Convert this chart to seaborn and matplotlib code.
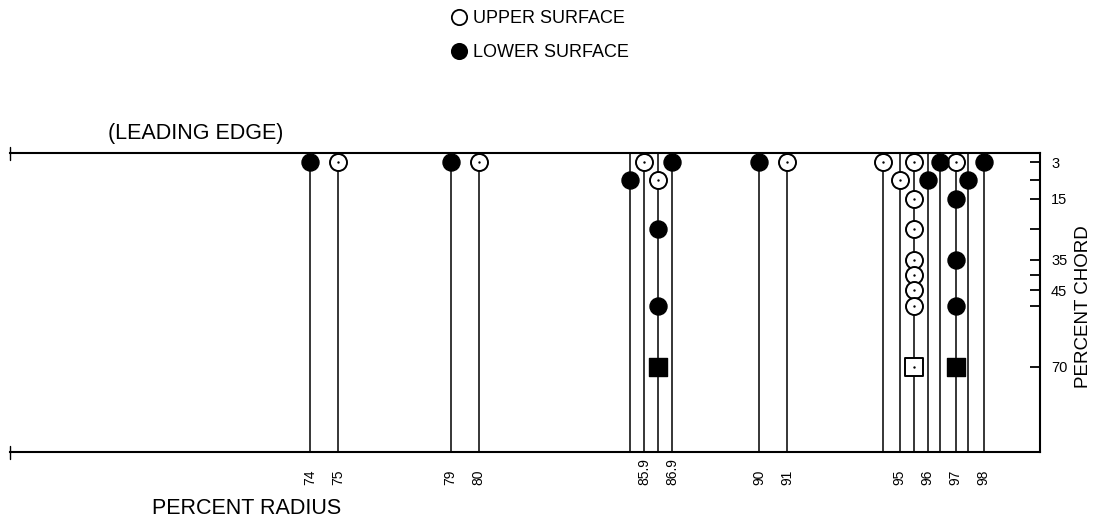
import seaborn as sns
import matplotlib.pyplot as plt
import pandas as pd
from matplotlib.lines import Line2D

# ---- data -------------------------------------------------------------
station_radius = [74, 75, 79, 80, 85.4, 85.9, 86.4, 86.9, 90, 91,
                  94.4, 95.0, 95.5, 96.0, 96.45, 97.0, 97.45, 98.0]

upper_radius = [75, 80, 85.9, 86.4, 91, 94.4, 95.0, 95.5, 95.5, 95.5,
                95.5, 95.5, 95.5, 95.5, 97.0]
upper_chord = [3, 3, 3, 9, 3, 3, 9, 3, 15, 25, 35, 40, 45, 50, 3]

lower_radius = [74, 79, 85.4, 86.4, 86.4, 86.9, 90, 96.0, 96.45, 97.0,
                97.0, 97.0, 97.45, 98.0]
lower_chord = [3, 3, 9, 25, 50, 3, 3, 9, 3, 15, 35, 50, 9, 3]

upper_sq_radius = [95.5]
upper_sq_chord = [70]
lower_sq_radius = [86.4, 97.0]
lower_sq_chord = [70, 70]

radius_ticks = [74, 75, 79, 80, 85.9, 86.9, 90, 91, 95, 96, 97, 98]
radius_labels = ["74", "75", "79", "80", "85.9", "86.9", "90", "91",
                 "95", "96", "97", "98"]
chord_ticks = [3, 9, 15, 25, 35, 40, 45, 50, 70]
chord_labels = ["3", "", "15", "", "35", "", "45", "", "70"]

# ---- figure -----------------------------------------------------------
sns.set_theme(style="white")
plt.rcParams["font.family"] = ["Liberation Sans", "DejaVu Sans"]
plt.rcParams["text.color"] = "black"

W, H = 1093, 518
fig = plt.figure(figsize=(W / 100, H / 100), dpi=100)
ax = fig.add_axes([10 / W, 1 - 452 / H, 1030 / W, 299 / H])

ax.vlines(station_radius, 0, 98, color="black", lw=1.1, zorder=2)

up = pd.DataFrame({"radius": upper_radius, "chord": upper_chord})
lo = pd.DataFrame({"radius": lower_radius, "chord": lower_chord})
usq = pd.DataFrame({"radius": upper_sq_radius, "chord": upper_sq_chord})
lsq = pd.DataFrame({"radius": lower_sq_radius, "chord": lower_sq_chord})

MS = 150
sns.scatterplot(data=up, x="radius", y="chord", marker="o", s=MS,
                color="white", edgecolor="black", linewidth=1.4,
                zorder=3, ax=ax)
sns.scatterplot(data=lo, x="radius", y="chord", marker="o", s=MS,
                color="black", edgecolor="black", linewidth=1.0,
                zorder=3, ax=ax)
sns.scatterplot(data=usq, x="radius", y="chord", marker="s", s=MS,
                color="white", edgecolor="black", linewidth=1.4,
                zorder=3, ax=ax)
sns.scatterplot(data=lsq, x="radius", y="chord", marker="s", s=MS,
                color="black", edgecolor="black", linewidth=1.0,
                zorder=3, ax=ax)
dots = pd.concat([up, usq])
sns.scatterplot(data=dots, x="radius", y="chord", marker="o", s=3,
                color="black", edgecolor="black", linewidth=0,
                zorder=4, ax=ax)

ax.set_xlim(63.3, 100)
ax.set_ylim(98, 0)

for side in ["top", "bottom", "right"]:
    ax.spines[side].set_visible(True)
    ax.spines[side].set_color("black")
    ax.spines[side].set_linewidth(1.5)
ax.spines["left"].set_visible(False)

# break marks at the left ends
for yy in (1.0, 0.0):
    ax.plot([0.0, 0.0], [yy - 0.025, yy + 0.02], transform=ax.transAxes,
            color="black", lw=1.0, clip_on=False)

ax.set_xticks(radius_ticks)
ax.set_xticklabels(radius_labels, rotation=90)
ax.tick_params(axis="x", length=0, pad=24, labelsize=10, colors="black")
plt.setp(ax.get_xticklabels(), va="bottom", ha="center")

ax.yaxis.tick_right()
ax.set_yticks(chord_ticks)
ax.set_yticklabels(chord_labels)
ax.tick_params(axis="y", which="major", direction="in", length=7, width=1.3,
               pad=8, labelsize=10.5, right=True, left=False, colors="black")

ax.set_xlabel("PERCENT RADIUS", fontsize=15.5, color="black", va="center")
ax.xaxis.set_label_coords((247 - 10) / 1030, -(508 - 452) / 299)
ax.yaxis.set_label_position("right")
ax.set_ylabel("PERCENT CHORD", fontsize=13.5, color="black", rotation=90,
              va="center", ha="center")
ax.yaxis.set_label_coords((1083 - 10) / 1030, (452 - 307) / 299)

fig.text(196 / W, 1 - 134 / H, "(LEADING EDGE)", fontsize=15.5,
         ha="center", va="center", color="black")

handles = [
    Line2D([], [], marker="o", ls="", mfc="white", mec="black", ms=11,
           mew=1.3, label="UPPER SURFACE"),
    Line2D([], [], marker="o", ls="", mfc="black", mec="black", ms=11,
           mew=1.3, label="LOWER SURFACE"),
]
fig.legend(handles=handles, loc="upper left",
           bbox_to_anchor=(450 / W, 1 - 10 / H), frameon=False, fontsize=13,
           handletextpad=0.25, labelspacing=0.95, handlelength=1.0,
           borderpad=0, borderaxespad=0, labelcolor="black")

fig.savefig("out.png", dpi=100)
